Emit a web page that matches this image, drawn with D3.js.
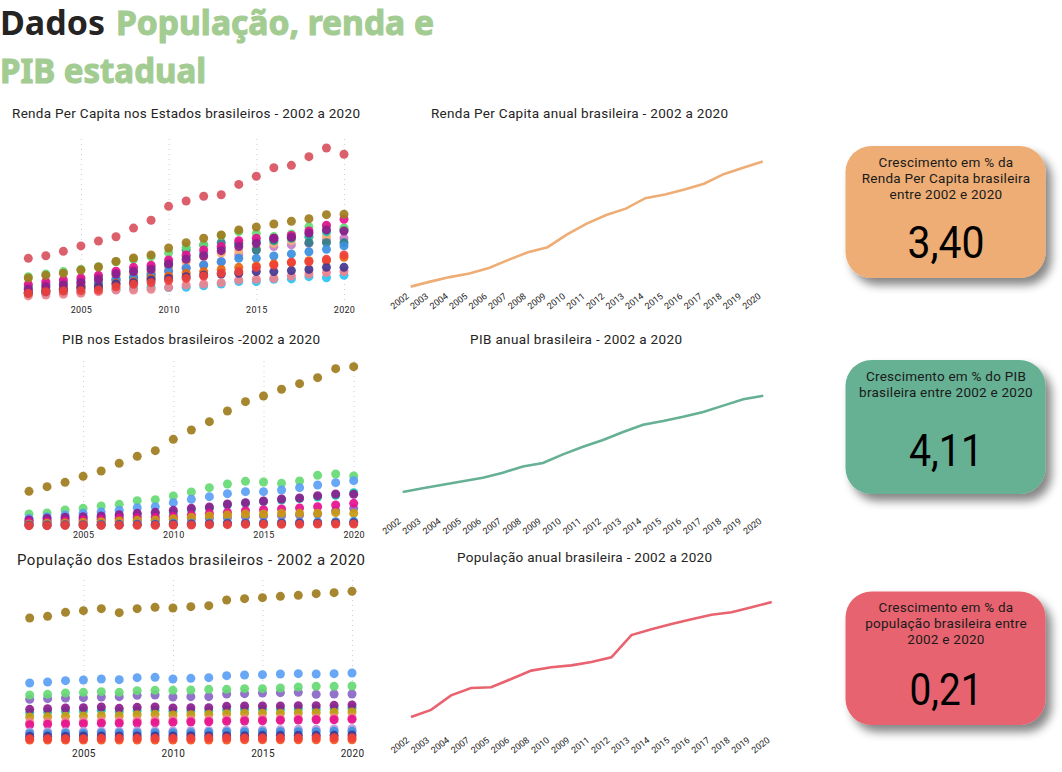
<!DOCTYPE html>
<html>
<head>
<meta charset="utf-8">
<script src="https://cdn.jsdelivr.net/npm/d3@7"></script>
<style>
  body { margin: 0; background: #fff; }
  text { font-family: Roboto, sans-serif; fill: #252423; }
  .title { font-family: "Noto Sans", sans-serif; font-weight: 700; font-size: 33.5px; }
  .title.green { fill: #a3cc92; stroke: #a3cc92; stroke-width: 1.1px; }
  .grid .domain { display: none; }
  .grid line { stroke: #d0d0d0; stroke-dasharray: 1 4; }
</style>
</head>
<body>
<div id="chart"></div>
<script>
// years
var years = d3.range(2002, 2021);
var yearLabels = ["2002","2003","2004","2005","2006","2007","2008","2009","2010","2011","2012","2013","2014","2015","2016","2017","2018","2019","2020"];
var popLabels = ["2002","2003","2004","2007","2005","2006","2008","2010","2009","2011","2012","2013","2014","2015","2016","2017","2018","2019","2020"];
var scatterTicks = [2005, 2010, 2015, 2020];

// renda per capita by state (R$ thousand)
var rendaDF = [25.1,26.6,29.2,32.4,35.3,37.8,42.9,47.5,55.7,58.8,61.6,62.5,68.6,73.4,78.4,79.8,84.9,90.0,86.3];
var rendaSP = [13.5,15.1,16.3,18.2,20.0,23.3,25.3,27.1,31.2,34.3,36.9,38.8,41.8,43.5,45.3,46.9,48.4,50.8,51.0];
var rendaSC = [9.8,11.4,12.4,13.5,15.1,17.5,19.8,21.0,24.1,27.1,30.0,32.0,35.5,36.9,36.9,38.6,41.2,44.5,48.1];
var rendaRJ = [14.3,15.9,17.3,18.6,20.2,23.1,24.5,26.1,28.4,31.6,33.0,38.6,40.8,39.8,37.9,39.4,43.7,44.1,43.0];
var rendaRS = [6.9,8.4,9.4,10.8,12.8,15.9,17.3,18.6,21.8,24.5,26.5,29.6,32.0,33.9,36.9,37.5,39.8,41.8,41.2];
var rendaMT = [5.5,6.5,7.5,8.8,10.4,12.4,13.9,15.3,21.2,30.0,33.0,34.3,33.9,30.0,35.9,37.5,34.3,34.3,34.3];
var rendaPR = [8.4,9.8,10.8,12.4,14.3,16.3,18.2,19.8,22.6,26.1,28.1,31.0,33.5,34.9,35.5,36.9,37.9,40.8,41.8];
var rendaES = [4.5,6.1,6.9,8.4,10.0,12.4,13.3,14.3,17.3,19.2,21.2,23.1,25.1,25.1,26.5,27.7,29.0,30.4,32.4];
var rendaCE = [4.9,5.5,6.5,7.5,8.4,10.0,10.8,12.4,13.3,14.3,15.3,15.9,16.3,17.3,17.3,17.9,18.6,19.8,19.8];
var rendaRO = [4.5,5.5,5.9,6.1,6.5,8.4,9.8,10.8,12.0,13.3,14.7,16.3,17.3,19.8,21.2,22.8,23.1,24.5,27.1];
var rendaTO = [4.5,6.5,6.9,8.4,8.4,10.4,11.4,13.3,14.7,16.3,17.3,18.6,19.8,20.6,21.8,22.6,23.7,23.7,25.7];
var rendaMA = [3.0,3.5,3.9,4.5,5.5,6.5,6.5,6.9,8.1,9.4,10.0,10.8,12.4,12.8,13.3,14.7,15.9,16.7,17.3];
var rendaPI = [4.1,4.5,4.9,5.3,6.1,6.9,7.5,8.1,7.9,8.1,8.9,10.0,11.4,11.4,12.8,13.0,14.3,13.7,15.1];
var rendaMS = [8.4,10.0,10.4,11.4,12.4,13.3,14.3,16.3,18.2,19.8,21.2,23.1,27.1,30.0,32.0,33.0,33.9,35.9,36.9];
var rendaGO = [7.5,8.8,9.8,10.8,12.4,14.7,16.3,17.3,20.2,23.1,26.1,28.1,29.6,31.0,33.9,35.5,37.5,38.2,41.8];

// PIB by state (R$ billion)
var pibSP = [535,605,670,760,840,955,1060,1145,1315,1455,1580,1740,1880,1965,2065,2150,2240,2375,2405];
var pibRJ = [195,210,255,280,315,340,395,410,465,525,590,645,685,675,655,690,775,795,765];
var pibMG = [130,155,180,205,225,250,290,305,365,415,455,500,530,530,555,590,630,665,695];
var pibRS = [105,130,145,155,165,185,205,220,250,280,300,345,365,390,420,435,470,495,490];
var pibPR = [80,95,115,130,145,165,180,195,215,255,280,330,355,380,405,425,450,475,515];
var pibSC = [75,80,90,105,115,130,140,145,160,180,205,220,245,260,270,285,305,330,355];
var pibPE = [45,55,60,70,80,90,100,105,125,145,165,180,195,195,205,205,205,215,205];
var pibBA = [55,55,60,70,80,85,95,100,110,120,130,140,155,165,170,180,195,245,280];
var pibES = [30,30,35,35,40,40,45,45,55,55,60,65,65,65,70,70,75,80,85];
var pibCE = [25,25,30,30,30,32,35,35,40,40,45,48,50,50,52,55,58,60,62];
var pibRO = [20,20,25,25,25,25,25,25,30,30,35,35,40,40,40,40,45,45,45];

// populacao by state (million)
var popSP = [37.1,37.6,38.8,39.3,39.9,38.7,39.9,40.3,40.1,40.5,40.8,42.5,42.9,43.2,43.6,43.9,44.4,44.7,45.1];
var popMG = [17.6,17.9,18.3,18.5,18.8,18.6,19.2,19.3,18.8,19.0,19.2,19.8,20.0,20.1,20.3,20.4,20.3,20.4,20.6];
var popRJ = [14.0,14.2,14.6,14.8,15.0,14.8,15.3,15.4,15.4,15.5,15.7,15.7,15.9,15.9,16.1,16.4,16.6,16.6,16.7];
var popBA = [12.7,12.9,13.1,13.2,13.4,13.5,13.9,14.0,13.4,13.5,13.5,14.3,14.4,14.6,14.7,14.8,14.2,14.3,14.3];
var popRS = [9.7,9.9,10.1,10.2,10.4,10.0,10.3,10.4,10.1,10.2,10.2,10.6,10.7,10.7,10.7,10.8,10.8,10.9,11.0];
var popPR = [8.7,8.9,9.1,9.2,9.4,9.0,9.3,9.4,9.1,9.2,9.2,9.6,9.7,9.7,9.7,9.8,9.8,9.9,10.0];
var popPE = [7.4,7.5,7.6,7.7,7.8,7.8,8.1,8.2,8.0,8.1,8.2,8.4,8.5,8.5,8.5,8.6,8.7,8.8,8.9];
var popMA = [5.8,5.9,6.0,6.1,6.2,6.2,6.3,6.4,6.5,6.5,6.6,6.7,6.8,6.9,6.9,7.0,7.0,7.1,7.2];
var popSC = [5.1,5.2,5.3,5.4,5.5,5.5,5.6,5.7,5.8,5.9,6.0,6.1,6.2,6.3,6.4,6.5,6.6,6.6,6.7];
var popPB = [2.9,3.0,3.0,3.1,3.1,3.1,3.2,3.2,3.2,3.3,3.3,3.4,3.5,3.5,3.6,3.7,3.7,3.8,3.9];
var popES = [2.4,2.4,2.5,2.5,2.6,2.6,2.6,2.7,2.7,2.7,2.8,2.9,2.9,2.9,3.0,3.0,3.0,3.1,3.1];
var popCE = [1.6,1.6,1.6,1.7,1.7,1.7,1.7,1.7,1.7,1.8,1.8,1.8,1.8,1.9,1.9,1.9,1.9,1.9,2.0];
var popRO = [0.9,0.9,0.9,0.9,1.0,1.0,1.0,1.0,1.0,1.0,1.1,1.1,1.1,1.1,1.1,1.1,1.2,1.2,1.2];
var popRR = [0.5,0.5,0.5,0.5,0.5,0.5,0.5,0.5,0.5,0.5,0.5,0.5,0.6,0.6,0.6,0.6,0.6,0.6,0.6];

// national totals
var rendaBrasil = [8.4,9.5,10.5,11.3,12.5,14.3,16.0,17.1,19.9,22.3,24.2,25.6,27.9,28.7,29.8,31.1,33.2,34.6,36.0];
var pibBrasil = [1490,1725,1955,2170,2400,2715,3115,3330,3880,4365,4790,5295,5760,6000,6270,6570,6970,7370,7600];
var popBrasil = [174.6,176.9,181.6,184.0,184.2,186.9,189.6,190.7,191.3,192.4,193.9,201.1,203.0,204.7,206.2,207.7,208.5,210.1,211.8];

// back to front
var rendaStates = ["MS","PI","MA","GO","PR","MT","RJ","ES","TO","CE","SC","RS","RO","DF","SP"];
var rendaSeries = [rendaMS,rendaPI,rendaMA,rendaGO,rendaPR,rendaMT,rendaRJ,rendaES,rendaTO,rendaCE,rendaSC,rendaRS,rendaRO,rendaDF,rendaSP];
var pibStates = ["BA","PR","RJ","MG","RS","SC","PE","ES","CE","RO","SP"];
var pibSeries = [pibBA,pibPR,pibRJ,pibMG,pibRS,pibSC,pibPE,pibES,pibCE,pibRO,pibSP];
var popStates = ["BA","PR","MG","RJ","RS","PE","MA","SC","PB","ES","CE","RR","RO","SP"];
var popSeries = [popBA,popPR,popMG,popRJ,popRS,popPE,popMA,popSC,popPB,popES,popCE,popRR,popRO,popSP];

// colour of each state
var stateCodes = ["DF","SP","SC","RJ","RS","MT","PR","ES","CE","RO","TO","MA","PI","MS","GO","BA","PE","PB","RR"];
var stateColors = ["#d9515f","#a07c1e","#e6108f","#66da74","#8c1d8c","#2f7f88","#12c4ae","#3c8fe0","#44358f","#f0403a","#e8650f","#f0828e","#28c4f2","#c77cc4","#f8ae72","#8a66c8","#c99a10","#b79ae0","#f5561f"];
var color = d3.scaleOrdinal().domain(stateCodes).range(stateColors);
var mgColor = "#5a9ff5";

var svg = d3.select("#chart").append("svg")
    .attr("width", 1062)
    .attr("height", 772)
    .style("display", "block");

// card shadow
svg.append("defs").append("filter")
    .attr("id", "shadow")
    .attr("x", "-20%").attr("y", "-20%")
    .attr("width", "150%").attr("height", "150%")
  .append("feDropShadow")
    .attr("dx", 6).attr("dy", 7)
    .attr("stdDeviation", 5)
    .attr("flood-color", "#000")
    .attr("flood-opacity", 0.48);

// page title
svg.append("text").attr("class", "title").attr("x", 0).attr("y", 35)
    .attr("textLength", 105).attr("lengthAdjust", "spacingAndGlyphs").text("Dados");
svg.append("text").attr("class", "title green").attr("x", 116).attr("y", 35)
    .attr("textLength", 318).attr("lengthAdjust", "spacingAndGlyphs").text("População, renda e");
svg.append("text").attr("class", "title green").attr("x", 0).attr("y", 83)
    .attr("textLength", 206).attr("lengthAdjust", "spacingAndGlyphs").text("PIB estadual");

function chartTitle(label, x, y, width, size) {
  svg.append("text")
      .attr("x", x)
      .attr("y", y)
      .attr("textLength", width)
      .attr("lengthAdjust", "spacing")
      .style("font-size", size + "px")
      .text(label);
}

function scatter(opts) {
  var x = d3.scaleLinear().domain([2002, 2020]).range(opts.xRange);
  var y = d3.scaleLinear().domain(opts.yDomain).range(opts.yRange);

  var grid = svg.append("g")
      .attr("class", "grid")
      .attr("transform", "translate(0," + opts.bottom + ")")
      .call(d3.axisBottom(x)
        .tickValues(scatterTicks)
        .tickFormat(d3.format("d"))
        .tickSizeInner(-opts.gridHeight)
        .tickSizeOuter(0)
        .tickPadding(opts.labelPad));
  grid.selectAll("text")
      .style("font-size", opts.labelSize + "px")
      .style("letter-spacing", "0.3px");

  opts.series.forEach(function(values, i) {
    var state = opts.states[i];
    svg.append("g")
        .selectAll("circle")
        .data(values)
        .enter()
        .append("circle")
        .attr("cx", function(d, j) { return x(years[j]); })
        .attr("cy", function(d) { return y(d); })
        .attr("r", 4.5)
        .style("fill", state == "MG" ? mgColor : color(state))
        .style("opacity", 0.92);
  });
}

function lineChart(opts) {
  var x = d3.scalePoint().domain(opts.labels).range(opts.xRange);
  var y = d3.scaleLinear().domain(opts.yDomain).range(opts.yRange);

  var line = d3.line()
      .x(function(d, j) { return x(opts.labels[j]); })
      .y(function(d) { return y(d); });

  svg.append("path")
      .datum(opts.values)
      .attr("d", line)
      .style("fill", "none")
      .style("stroke", opts.color)
      .style("stroke-width", 2.6);

  var axis = svg.append("g")
      .attr("transform", "translate(-5," + opts.axisY + ")")
      .call(d3.axisBottom(x).tickSize(0).tickPadding(0));
  axis.select(".domain").remove();
  axis.selectAll("text")
      .attr("text-anchor", "end")
      .attr("dy", ".6em")
      .attr("transform", "rotate(-38)")
      .style("font-size", "9px");
}

function card(opts) {
  var g = svg.append("g");
  g.append("rect")
      .attr("x", 845.5)
      .attr("y", opts.top)
      .attr("width", 200)
      .attr("height", opts.height)
      .attr("rx", 26)
      .style("fill", opts.color)
      .style("filter", "url(#shadow)");
  opts.lines.forEach(function(t, i) {
    g.append("text")
        .attr("x", 946)
        .attr("y", opts.lineY[i])
        .attr("text-anchor", "middle")
        .style("font-size", "13.5px")
        .style("letter-spacing", "0.25px")
        .style("fill", "#1a1a1a")
        .text(t);
  });
  g.append("text")
      .attr("x", 946)
      .attr("y", opts.valueY)
      .attr("text-anchor", "middle")
      .attr("textLength", opts.valueWidth)
      .attr("lengthAdjust", "spacingAndGlyphs")
      .style("font-size", "44px")
      .style("fill", "#000")
      .text(opts.value);
}

chartTitle("Renda Per Capita nos Estados brasileiros - 2002 a 2020", 12, 118, 348, 13.5);
chartTitle("Renda Per Capita anual brasileira - 2002 a 2020", 431, 118, 297, 13.5);
chartTitle("PIB nos Estados brasileiros -2002 a 2020", 62, 344, 258, 13.5);
chartTitle("PIB anual brasileira - 2002 a 2020", 470, 344, 212, 13.5);
chartTitle("População dos Estados brasileiros - 2002 a 2020", 17, 565, 348, 15);
chartTitle("População anual brasileira - 2002 a 2020", 457, 562, 255, 13.5);

scatter({ series: rendaSeries, states: rendaStates, xRange: [28.3, 344], yDomain: [0, 100], yRange: [301, 131],
          bottom: 300, gridHeight: 165, labelPad: 7, labelSize: 9 });
scatter({ series: pibSeries, states: pibStates, xRange: [29, 353.7], yDomain: [0, 2500], yRange: [527, 360.3],
          bottom: 527, gridHeight: 167, labelPad: 5, labelSize: 9 });
scatter({ series: popSeries, states: popStates, xRange: [29.7, 352], yDomain: [0, 50], yRange: [741.7, 575],
          bottom: 741, gridHeight: 163, labelPad: 9, labelSize: 10 });

lineChart({ labels: yearLabels, values: rendaBrasil, xRange: [410.7, 762.7], yDomain: [0, 36], yRange: [324.7, 161.5],
            color: "#eead75", axisY: 293 });
lineChart({ labels: yearLabels, values: pibBrasil, xRange: [402.7, 763.3], yDomain: [0, 7600], yRange: [515.5, 395.7],
            color: "#66b094", axisY: 518 });
lineChart({ labels: popLabels, values: popBrasil, xRange: [411, 771.7], yDomain: [174.6, 211.8], yRange: [717, 602],
            color: "#e8636f", axisY: 737 });

card({ top: 146, height: 132, color: "#eead75", lines: ["Crescimento em % da", "Renda Per Capita brasileira", "entre 2002 e 2020"],
       lineY: [167, 182.5, 198.5], value: "3,40", valueWidth: 77, valueY: 258 });
card({ top: 360, height: 134, color: "#66b094", lines: ["Crescimento em % do PIB", "brasileira entre 2002 e 2020"],
       lineY: [381, 397], value: "4,11", valueWidth: 74, valueY: 466 });
card({ top: 591.5, height: 133.5, color: "#e8636f", lines: ["Crescimento em % da", "população brasileira entre", "2002 e 2020"],
       lineY: [612, 628, 643.5], value: "0,21", valueWidth: 73, valueY: 705 });
</script>
</body>
</html>
